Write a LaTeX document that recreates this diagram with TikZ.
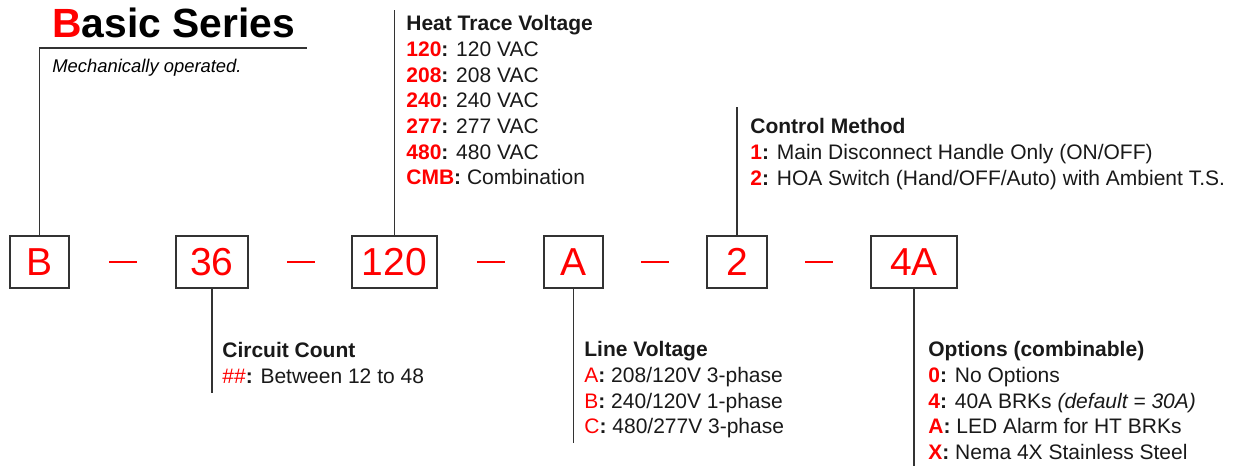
\documentclass[tikz,border=0pt]{standalone}
\usepackage{fontspec}
\setmainfont{Liberation Sans}
\newcommand{\codekey}[1]{{\color{red}\bfseries #1}\textbf{:}}
\newcommand{\codekeylt}[1]{{\color{red}#1}\textbf{:}}
\begin{document}
\begin{tikzpicture}[
    x=0.5pt, y=-0.5pt,
    codebox/.style={rectangle, draw=black!80, line width=0.75pt, minimum height=26pt, inner sep=0pt, text=red, font=\fontsize{19.5}{20}\selectfont},
    sepdash/.style={rectangle, fill=red, minimum width=14pt, minimum height=0.75pt, inner sep=0pt},
    lead/.style={draw=black!80, line width=0.75pt},
    info/.style={anchor=north west, inner sep=0pt, align=left, text=black!90, font=\fontsize{10.5}{12.85}\selectfont}
]
\useasboundingbox (0,0) rectangle (1237,466);

% Title
\node[anchor=base west, inner sep=0pt, font=\fontsize{20.4}{22}\selectfont\bfseries] (title) at (52,37) {{\color{red}B}asic Series};
\node[anchor=base west, inner sep=0pt, font=\fontsize{9.2}{11}\selectfont\itshape] (subtitle) at (52,72) {Mechanically operated.};
\coordinate (titleend) at (307,48);

% Code boxes
\node[codebox, minimum width=29.5pt] (series) at (39.5,262) {B};
\node[codebox, minimum width=36pt] (count) at (212,262) {36};
\node[codebox, minimum width=42.5pt] (heat) at (394.5,262) {120};
\node[codebox, minimum width=29.5pt] (line) at (573.5,262) {A};
\node[codebox, minimum width=30pt] (ctrl) at (737,262) {2};
\node[codebox, minimum width=43pt] (opts) at (914,262) {4A};

% Separators
\node[sepdash] (sep1) at (122.5,262) {};
\node[sepdash] (sep2) at (300.5,262) {};
\node[sepdash] (sep3) at (491,262) {};
\node[sepdash] (sep4) at (655,262) {};
\node[sepdash] (sep5) at (818.5,262) {};

% Descriptions
\node[info] (heatinfo) at (406,15) {\textbf{Heat Trace Voltage}\\
    \codekey{120} 120 VAC\\
    \codekey{208} 208 VAC\\
    \codekey{240} 240 VAC\\
    \codekey{277} 277 VAC\\
    \codekey{480} 480 VAC\\
    \codekey{CMB} Combination};
\node[info] (ctrlinfo) at (750,118) {\textbf{Control Method}\\
    \codekey{1} Main Disconnect Handle Only (ON/OFF)\\
    \codekey{2} HOA Switch (Hand/OFF/Auto) with Ambient T.S.};
\node[info] (countinfo) at (222,342) {\textbf{Circuit Count}\\
    \codekeylt{\#\#} Between 12 to 48};
\node[info] (lineinfo) at (584,341) {\textbf{Line Voltage}\\
    \codekeylt{A} 208/120V 3-phase\\
    \codekeylt{B} 240/120V 1-phase\\
    \codekeylt{C} 480/277V 3-phase};
\node[info] (optsinfo) at (928,341) {\textbf{Options (combinable)}\\
    \codekey{0} No Options\\
    \codekey{4} 40A BRKs \textit{(default = 30A)}\\
    \codekey{A} LED Alarm for HT BRKs\\
    \codekey{X} Nema 4X Stainless Steel};

% Leader lines
\coordinate (heattop) at (394.5,10);
\coordinate (ctrltop) at (737,107);
\coordinate (countbot) at (212,393);
\coordinate (linebot) at (573.5,443);
\coordinate (optsbot) at (914,466);
\draw[lead] (series.north) |- (titleend);
\draw[lead] (heat.north) -- (heattop);
\draw[lead] (ctrl.north) -- (ctrltop);
\draw[lead] (count.south) -- (countbot);
\draw[lead] (line.south) -- (linebot);
\draw[lead] (opts.south) -- (optsbot);

\end{tikzpicture}
\end{document}
